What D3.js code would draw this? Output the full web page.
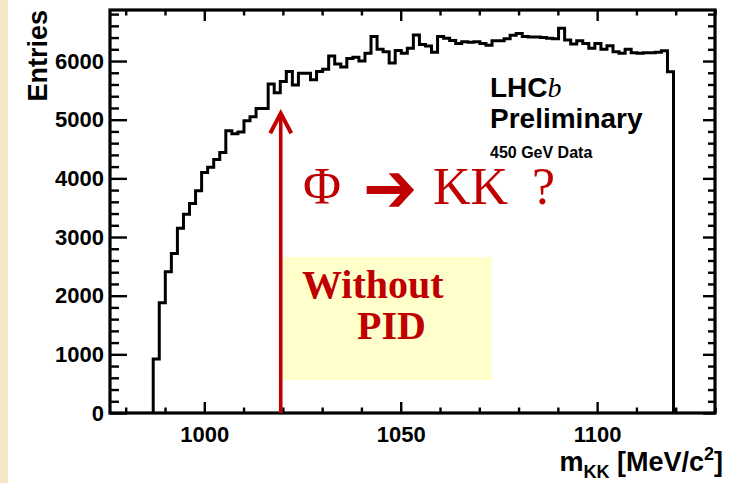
<!DOCTYPE html>
<html>
<head>
<meta charset="utf-8">
<script src="https://cdn.jsdelivr.net/npm/d3@7/dist/d3.min.js"></script>
<style>
  body { margin: 0; background: #fff; }
  svg { display: block; }
</style>
</head>
<body>
<div id="chart"></div>
<script>
// m(KK) spectrum, LHCb preliminary, 450 GeV data, no PID
const binStart = 987.0; // MeV, first bin low edge (KK threshold)
const binWidth = 1.54;  // MeV
const entries = [
  920, 1880, 2410, 2720, 3150, 3390, 3570, 3790, 4100, 4190,
  4320, 4440, 4810, 4760, 4790, 4980, 5050, 5190, 5190, 5610,
  5460, 5650, 5820, 5590, 5790, 5790, 5680, 5820, 5860, 6085,
  5950, 5900, 6045, 6063, 6000, 6131, 6420, 6200, 6160, 5965,
  6180, 6131, 6220, 6443, 6280, 6256, 6150, 6420, 6390, 6350,
  6300, 6330, 6320, 6330, 6300, 6270, 6346, 6346, 6380, 6440,
  6470, 6420, 6410, 6410, 6400, 6390, 6380, 6557, 6358, 6290,
  6346, 6300, 6216, 6300, 6200, 6260, 6160, 6131, 6199, 6140,
  6131, 6140, 6140, 6150, 6176, 5818
];
const phiMass = 1019.46;   // arrow position
const arrowTop = 5110;     // entries at arrow tip
const xTicks = [1000, 1050, 1100];
const yTicks = [0, 1000, 2000, 3000, 4000, 5000, 6000];

const W = 732, H = 483;
const frame = { left: 110, right: 715, top: 10, bottom: 413 };
const red = '#c00000';
const sans = '"Liberation Sans", Arial, Helvetica, sans-serif';
const serif = '"Liberation Serif", "Times New Roman", serif';

const svg = d3.select('#chart').append('svg').attr('width', W).attr('height', H);

// beige slide edge on the left
svg.append('rect').attr('x', 0).attr('y', 0).attr('width', 8).attr('height', H).attr('fill', '#f3e8c6');

const x = d3.scaleLinear().domain([976, 1130]).range([frame.left, frame.right]);
const y = d3.scaleLinear().domain([0, 6870]).range([frame.bottom, frame.top]);

// histogram outline
const pts = [[binStart, 0]];
entries.forEach((v, i) => {
  pts.push([binStart + i * binWidth, v]);
  pts.push([binStart + (i + 1) * binWidth, v]);
});
pts.push([binStart + entries.length * binWidth, 0]);

const line = d3.line().x((d) => x(d[0])).y((d) => y(d[1]));
svg.append('path')
  .attr('d', line(pts))
  .attr('fill', 'none')
  .attr('stroke', '#000')
  .attr('stroke-width', 3)
  .attr('stroke-linejoin', 'miter');

// axes: ticks on all four sides, pointing inward
const xMinor = d3.range(980, 1131, 10).filter((v) => !xTicks.includes(v));
const yMinor = d3.range(0, 6870, 200).filter((v) => !yTicks.includes(v));

function styleAxis(g) {
  g.select('.domain').remove();
  g.selectAll('line').attr('stroke', '#000').attr('stroke-width', 2.4);
  g.selectAll('text')
    .attr('fill', '#000')
    .style('font-family', sans)
    .style('font-weight', 'bold')
    .style('font-size', '22px');
}

svg.append('g').attr('transform', `translate(0,${frame.bottom})`)
  .call(d3.axisBottom(x).tickValues(xTicks).tickSize(-11).tickPadding(13.5).tickFormat(d3.format('d')))
  .call(styleAxis);
svg.append('g').attr('transform', `translate(0,${frame.bottom})`)
  .call(d3.axisBottom(x).tickValues(xMinor).tickSize(-5.5).tickFormat(''))
  .call(styleAxis);
svg.append('g').attr('transform', `translate(0,${frame.top})`)
  .call(d3.axisTop(x).tickValues(xTicks).tickSize(-11).tickFormat(''))
  .call(styleAxis);
svg.append('g').attr('transform', `translate(0,${frame.top})`)
  .call(d3.axisTop(x).tickValues(xMinor).tickSize(-5.5).tickFormat(''))
  .call(styleAxis);

svg.append('g').attr('transform', `translate(${frame.left},0)`)
  .call(d3.axisLeft(y).tickValues(yTicks).tickSize(-17).tickPadding(6).tickFormat(d3.format('d')))
  .call(styleAxis);
svg.append('g').attr('transform', `translate(${frame.left},0)`)
  .call(d3.axisLeft(y).tickValues(yMinor).tickSize(-9).tickFormat(''))
  .call(styleAxis);
svg.append('g').attr('transform', `translate(${frame.right},0)`)
  .call(d3.axisRight(y).tickValues(yTicks).tickSize(-12).tickFormat(''))
  .call(styleAxis);
svg.append('g').attr('transform', `translate(${frame.right},0)`)
  .call(d3.axisRight(y).tickValues(yMinor).tickSize(-7).tickFormat(''))
  .call(styleAxis);

// frame
svg.append('rect')
  .attr('x', frame.left).attr('y', frame.top)
  .attr('width', frame.right - frame.left).attr('height', frame.bottom - frame.top)
  .attr('fill', 'none').attr('stroke', '#000').attr('stroke-width', 3.2);

// axis titles
svg.append('text')
  .attr('transform', 'translate(47,10) rotate(-90)')
  .attr('text-anchor', 'end')
  .style('font-family', sans).style('font-weight', 'bold').style('font-size', '27px')
  .text('Entries');

const xt = svg.append('text')
  .attr('x', 723).attr('y', 471)
  .attr('text-anchor', 'end')
  .style('font-family', sans).style('font-weight', 'bold').style('font-size', '27px');
xt.append('tspan').text('m');
xt.append('tspan').attr('dy', 7).style('font-size', '18px').text('KK');
xt.append('tspan').attr('dy', -7).text(' [MeV/c');
xt.append('tspan').attr('dy', -11).style('font-size', '18px').text('2');
xt.append('tspan').attr('dy', 11).text(']');

// LHCb label
const lhcb = svg.append('text').attr('x', 490).attr('y', 97)
  .style('font-family', sans).style('font-weight', 'bold').style('font-size', '28px');
lhcb.append('tspan').text('LHC');
lhcb.append('tspan').style('font-family', serif).style('font-style', 'italic').style('font-weight', 'normal').text('b');
svg.append('text').attr('x', 490).attr('y', 128)
  .style('font-family', sans).style('font-weight', 'bold').style('font-size', '28px')
  .text('Preliminary');
svg.append('text').attr('x', 490).attr('y', 158)
  .style('font-family', sans).style('font-weight', 'bold').style('font-size', '16px')
  .text('450 GeV Data');

// annotation box
svg.append('rect')
  .attr('x', 283).attr('y', 257).attr('width', 209).attr('height', 123)
  .attr('fill', '#ffffcc');
svg.append('text').attr('x', 302).attr('y', 298)
  .attr('fill', red)
  .style('font-family', serif).style('font-weight', 'bold').style('font-size', '40px')
  .text('Without');
svg.append('text').attr('x', 357).attr('y', 339)
  .attr('fill', red)
  .style('font-family', serif).style('font-weight', 'bold').style('font-size', '40px')
  .text('PID');

// phi -> KK ?
const phi = svg.append('text').attr('y', 204)
  .attr('fill', red)
  .style('font-family', serif).style('font-size', '52px');
phi.append('tspan').attr('x', 303).text('Φ');
phi.append('tspan').attr('x', 433).text('KK');
phi.append('tspan').attr('x', 532).text('?');
svg.append('text')
  .attr('transform', 'translate(363,212) scale(1.2,1.3)')
  .attr('fill', red)
  .style('font-family', '"DejaVu Sans", sans-serif').style('font-size', '54px')
  .text('➔');

// red arrow at the phi mass
const ax = x(phiMass);
const ay = y(arrowTop);
svg.append('line')
  .attr('x1', ax).attr('x2', ax)
  .attr('y1', y(0)).attr('y2', ay + 2)
  .attr('stroke', red).attr('stroke-width', 3.6);
svg.append('path')
  .attr('d', `M${ax - 10.5},${ay + 20} L${ax},${ay} L${ax + 10.5},${ay + 20}`)
  .attr('fill', 'none').attr('stroke', red).attr('stroke-width', 4);
</script>
</body>
</html>
